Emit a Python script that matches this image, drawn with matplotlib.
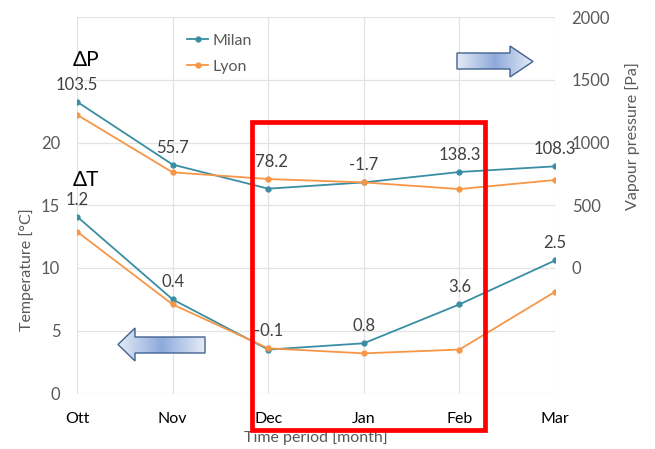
import numpy as np
import matplotlib
matplotlib.use('Agg')
import matplotlib.pyplot as plt
from matplotlib.patches import Polygon, Rectangle
from matplotlib.colors import LinearSegmentedColormap
from matplotlib.ticker import FuncFormatter

plt.rcParams['font.family'] = ['Lato', 'DejaVu Sans']

# data
months = ['Ott', 'Nov', 'Dec', 'Jan', 'Feb', 'Mar']
temp_milan = [14.1, 7.5, 3.5, 4.0, 7.1, 10.6]
temp_lyon = [12.9, 7.1, 3.6, 3.2, 3.5, 8.1]
pres_milan = [1325, 824, 632, 682, 765, 810]
pres_lyon = [1221, 762, 709, 682, 629, 701]
dT_labels = ['1.2', '0.4', '-0.1', '0.8', '3.6', '2.5']
dP_labels = ['103.5', '55.7', '-78.2', '-1.7', '138.3', '108.3']

c_milan = '#3a8ea3'
c_lyon = '#f79646'
grey = '#595959'
W, H = 655, 449

fig = plt.figure(figsize=(W / 100, H / 100), dpi=100)
ax = fig.add_axes([77 / W, 1 - 393.5 / H, (555 - 77) / W, (393.5 - 17) / H])
ax2 = ax.twinx()

x = np.arange(len(months))
ax.plot(x, temp_milan, '-o', color=c_milan, lw=1.3, ms=3.5, label='Milan', zorder=3)
ax.plot(x, temp_lyon, '-o', color=c_lyon, lw=1.3, ms=3.5, label='Lyon', zorder=3)
ax2.plot(x, pres_milan, '-o', color=c_milan, lw=1.3, ms=3.5, zorder=3)
ax2.plot(x, pres_lyon, '-o', color=c_lyon, lw=1.3, ms=3.5, zorder=3)

ax.set_xlim(0, len(months) - 1)
ax.set_ylim(0, 30)
ax2.set_ylim(-1000, 2000)
ax.set_yticks(np.arange(0, 31, 5))
ax2.set_yticks(np.arange(-1000, 2001, 500))
ax.yaxis.set_major_formatter(FuncFormatter(lambda v, p: '%d' % v if v <= 20 else ''))
ax2.yaxis.set_major_formatter(FuncFormatter(lambda v, p: '%d' % v if v >= 0 else ''))
ax.set_xticks(x)
ax.set_xticklabels(months)

for a in (ax, ax2):
    for s in a.spines.values():
        s.set_visible(False)
    a.tick_params(length=0, labelsize=12, colors=grey)
ax.tick_params(axis='x', colors='black', labelsize=11.5, pad=13)
ax.tick_params(axis='y', pad=12)
ax2.tick_params(axis='y', pad=12)
ax.grid(True, color='#e3e3e3', lw=0.9)
ax.set_axisbelow(True)

for i in x:
    yT = max(temp_milan[i], temp_lyon[i])
    ax.annotate(dT_labels[i], (i, yT), xytext=(0, 17), textcoords='offset pixels',
                ha='center', va='center', fontsize=12, color='#404040', zorder=5)
    yP = max(pres_milan[i], pres_lyon[i])
    ax2.annotate(dP_labels[i], (i, yP), xytext=(0, 17), textcoords='offset pixels',
                 ha='center', va='center', fontsize=12, color='#404040', zorder=5)

ax.legend(loc='upper left', bbox_to_anchor=(181 / W, 1 - 27 / H), bbox_transform=fig.transFigure,
          frameon=False, fontsize=11.5, labelcolor=grey, handlelength=1.3, handletextpad=0.25,
          labelspacing=0.75, borderaxespad=0)

fig.text(27 / W, 1 - 270 / H, 'Temperature [°C]', rotation=90, ha='center', va='center',
         fontsize=11.5, color=grey)
fig.text(633 / W, 1 - 136 / H, 'Vapour pressure [Pa]', rotation=90, ha='center', va='center',
         fontsize=11.5, color=grey)
fig.text(316 / W, 1 - 438 / H, 'Time period [month]', ha='center', va='center',
         fontsize=11.5, color=grey)
fig.text(73 / W, 1 - 60 / H, 'ΔP', ha='left', va='center', fontsize=15, color='black')
fig.text(73 / W, 1 - 180 / H, 'ΔT', ha='left', va='center', fontsize=15, color='black')

# overlay in pixel coordinates for arrows and red box
ov = fig.add_axes([0, 0, 1, 1], zorder=10)
ov.axis('off')

cmap = LinearSegmentedColormap.from_list('arr', ['#e4ebf6', '#8eaadb', '#e4ebf6'])
grad = np.linspace(0, 1, 256)[None, :]


def arrow(pts):
    poly = Polygon(pts, closed=True, fc='none', ec='#41628f', lw=1.0, zorder=3)
    ov.add_patch(poly)
    xs = [p[0] for p in pts]
    ys = [p[1] for p in pts]
    im = ov.imshow(grad, cmap=cmap, aspect='auto', zorder=2,
                   extent=(min(xs), max(xs), max(ys), min(ys)))
    im.set_clip_path(poly)


arrow([(457, 53), (510, 53), (510, 46), (533, 61.5), (510, 77), (510, 69), (457, 69)])
arrow([(205, 337), (135, 337), (135, 328), (118, 344.5), (135, 361), (135, 353), (205, 353)])

ov.add_patch(Rectangle((251.5, 122), 233, 307.5, fill=False, ec='#ff0000', lw=3.4, zorder=4))
ov.set_xlim(0, W)
ov.set_ylim(H, 0)

fig.savefig('out.png', dpi=100)
